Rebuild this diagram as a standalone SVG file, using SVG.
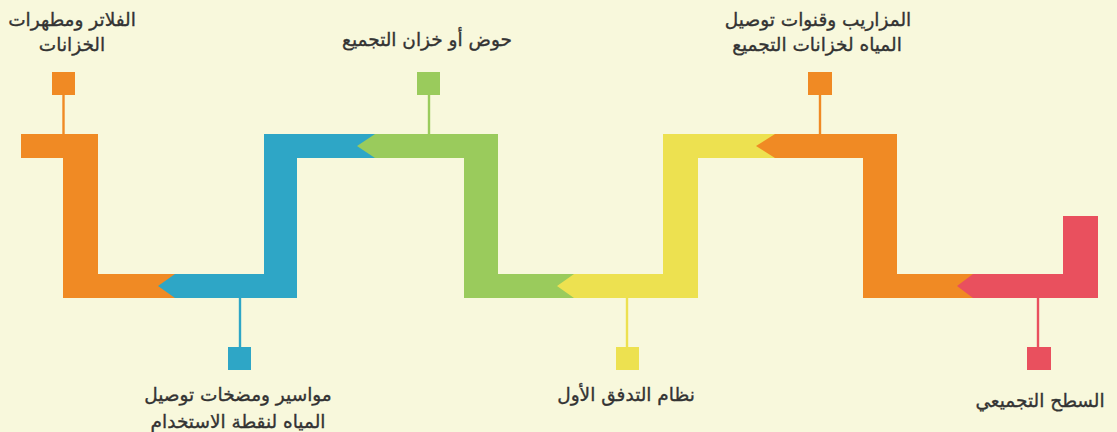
<svg xmlns="http://www.w3.org/2000/svg" width="1117" height="432" viewBox="0 0 1117 432">
  <style>
    .lbl { font-family: "DejaVu Sans", "Noto Sans", sans-serif; font-size: 18.5px; fill: #333333; stroke: #333333; stroke-width: 0.35; text-anchor: middle; direction: rtl; }
    .stem { stroke-width: 2.4; fill: none; }
    .orange { fill: #F08A24; }
    .blue { fill: #2EA6C6; }
    .green { fill: #9ACB5C; }
    .yellow { fill: #EDE150; }
    .red { fill: #E9505E; }
  </style>
  <rect x="0" y="0" width="1117" height="432" fill="#F8F8DC"/>

  <!-- stems linking each marker square to its pipe segment -->
  <g id="connectors">
    <line class="stem" x1="63.5" y1="95" x2="63.5" y2="135" stroke="#F08A24"/>
    <line class="stem" x1="240" y1="297" x2="240" y2="348" stroke="#2EA6C6"/>
    <line class="stem" x1="429" y1="95" x2="429" y2="135" stroke="#9ACB5C"/>
    <line class="stem" x1="627" y1="297" x2="627" y2="348" stroke="#EDE150"/>
    <line class="stem" x1="820" y1="95" x2="820" y2="135" stroke="#F08A24"/>
    <line class="stem" x1="1038" y1="297" x2="1038" y2="348" stroke="#E9505E"/>
  </g>

  <!-- stage 1: filters -->
  <g id="filters">
    <polygon class="orange" points="21,134 98,134 98,274 176,274 176,298 63,298 63,158 21,158"/>
    <rect class="orange" x="52" y="72" width="23" height="23"/>
    <text class="lbl" x="72" y="26">الفلاتر ومطهرات</text>
    <text class="lbl" x="72" y="51">الخزانات</text>
  </g>

  <!-- stage 2: pipes and pumps -->
  <g id="pipes">
    <polygon class="blue" points="158,286 175,274 264,274 264,134 376,134 376,158 297,158 297,298 175,298"/>
    <rect class="blue" x="228" y="347" width="23" height="23"/>
    <text class="lbl" x="238" y="401">مواسير ومضخات توصيل</text>
    <text class="lbl" x="238" y="428">المياه لنقطة الاستخدام</text>
  </g>

  <!-- stage 3: tank -->
  <g id="tank">
    <polygon class="green" points="357,146 375,134 498,134 498,274 575,274 575,298 464,298 464,158 375,158"/>
    <rect class="green" x="417" y="72" width="23" height="23"/>
    <text class="lbl" x="427" y="46">حوض أو خزان التجميع</text>
  </g>

  <!-- stage 4: first flush -->
  <g id="first-flush">
    <polygon class="yellow" points="557,286 574,274 663,274 663,134 776,134 776,158 698,158 698,298 574,298"/>
    <rect class="yellow" x="616" y="347" width="23" height="23"/>
    <text class="lbl" x="626" y="401">نظام التدفق الأول</text>
  </g>

  <!-- stage 5: gutters -->
  <g id="gutters">
    <polygon class="orange" points="756,146 775,134 897,134 897,274 974,274 974,298 863,298 863,158 775,158"/>
    <rect class="orange" x="808" y="72" width="24" height="23"/>
    <text class="lbl" x="818" y="26">المزاريب وقنوات توصيل</text>
    <text class="lbl" x="817" y="51">المياه لخزانات التجميع</text>
  </g>

  <!-- stage 6: catchment roof -->
  <g id="roof">
    <polygon class="red" points="957,286 973,274 1063,274 1063,216 1098,216 1098,298 973,298"/>
    <rect class="red" x="1027" y="347" width="24" height="23"/>
    <text class="lbl" x="1040" y="407">السطح التجميعي</text>
  </g>
</svg>
